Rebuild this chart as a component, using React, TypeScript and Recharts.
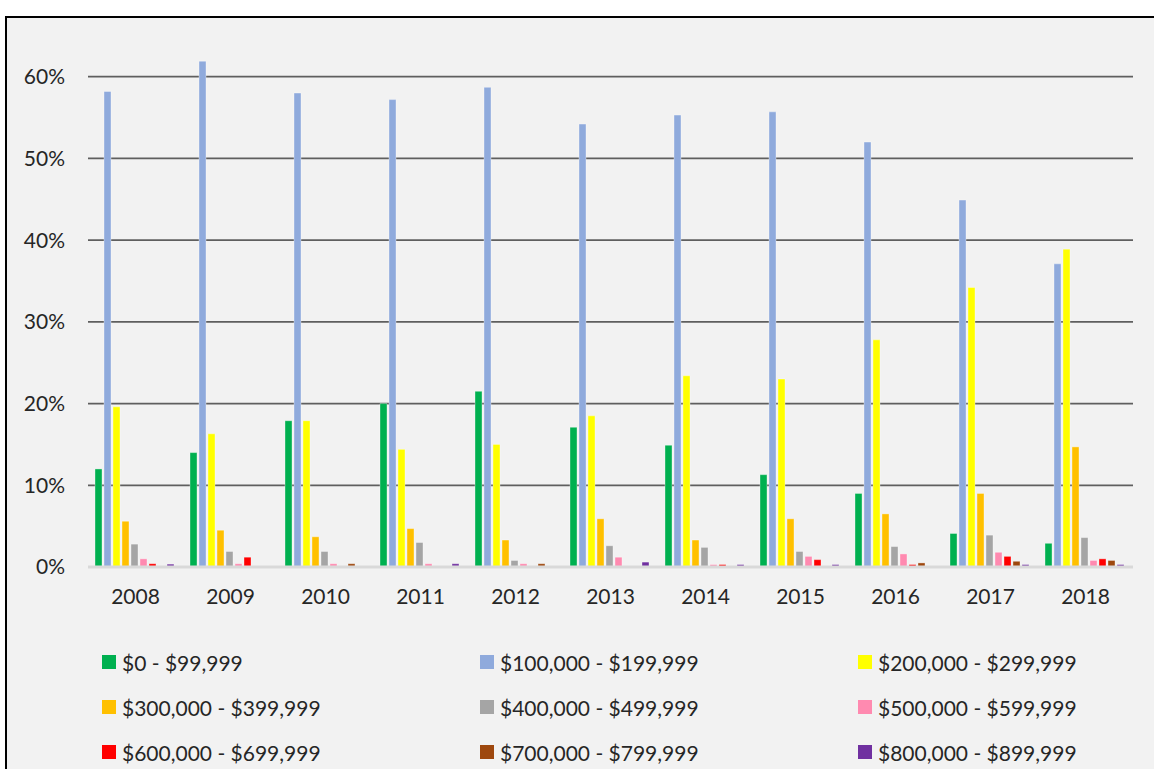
import { BarChart, Bar, XAxis, YAxis, CartesianGrid } from 'recharts'

const years = ['2008', '2009', '2010', '2011', '2012', '2013', '2014', '2015', '2016', '2017', '2018']

// share of loans in each price band, percent
const band0 = [12.0, 14.0, 17.9, 20.0, 21.5, 17.1, 14.9, 11.3, 9.0, 4.1, 2.9]
const band100 = [58.2, 61.9, 58.0, 57.2, 58.7, 54.2, 55.3, 55.7, 52.0, 44.9, 37.1]
const band200 = [19.6, 16.3, 17.9, 14.4, 15.0, 18.5, 23.4, 23.0, 27.8, 34.2, 38.9]
const band300 = [5.6, 4.5, 3.7, 4.7, 3.3, 5.9, 3.3, 5.9, 6.5, 9.0, 14.7]
const band400 = [2.8, 1.9, 1.9, 3.0, 0.8, 2.6, 2.4, 1.9, 2.5, 3.9, 3.6]
const band500 = [1.0, 0.4, 0.4, 0.4, 0.4, 1.2, 0.3, 1.3, 1.6, 1.8, 0.8]
const band600 = [0.4, 1.2, 0, 0, 0, 0, 0.3, 0.9, 0.3, 1.3, 1.0]
const band700 = [0, 0, 0.4, 0, 0.4, 0, 0, 0, 0.5, 0.7, 0.8]
const band800 = [0.35, 0, 0, 0.4, 0, 0.6, 0.3, 0.3, 0, 0.3, 0.3]

const yTicks = [0, 10, 20, 30, 40, 50, 60]

const series = [
  { key: 'b0', name: '$0 - $99,999', color: '#00b050', values: band0 },
  { key: 'b100', name: '$100,000 - $199,999', color: '#8faadc', values: band100 },
  { key: 'b200', name: '$200,000 - $299,999', color: '#ffff00', values: band200 },
  { key: 'b300', name: '$300,000 - $399,999', color: '#ffc000', values: band300 },
  { key: 'b400', name: '$400,000 - $499,999', color: '#a5a5a5', values: band400 },
  { key: 'b500', name: '$500,000 - $599,999', color: '#ff8ab0', values: band500 },
  { key: 'b600', name: '$600,000 - $699,999', color: '#ff0000', values: band600 },
  { key: 'b700', name: '$700,000 - $799,999', color: '#9e480e', values: band700 },
  { key: 'b800', name: '$800,000 - $899,999', color: '#7030a0', values: band800 },
]

const data = years.map((year, i) => {
  const row: Record<string, string | number> = { year }
  for (const s of series) row[s.key] = s.values[i]
  return row
})

const font = 'Lato, "Open Sans", sans-serif'

function LegendGrid() {
  return (
    <div style={{ position: 'absolute', left: 0, top: 650, width: 1154, height: 140 }}>
      {series.map((s, i) => {
        const col = i % 3
        const row = Math.floor(i / 3)
        return (
          <div
            key={s.key}
            style={{
              position: 'absolute',
              left: 102 + col * 378,
              top: row * 45,
              height: 24,
              display: 'flex',
              alignItems: 'center',
              fontFamily: font,
              fontSize: 21,
              color: '#262626',
              whiteSpace: 'nowrap',
            }}
          >
            <span style={{ width: 14, height: 14, background: s.color, marginRight: 6, display: 'inline-block' }} />
            {s.name}
          </div>
        )
      })}
    </div>
  )
}

export default function App() {
  return (
    <div style={{ position: 'absolute', left: 0, top: 0, width: 1154, height: 769, overflow: 'hidden', background: '#fff' }}>
      <div
        style={{
          position: 'absolute',
          left: 5,
          top: 16,
          width: 1200,
          height: 800,
          border: '2px solid #000',
          background: '#f2f2f2',
        }}
      />
      <div style={{ position: 'absolute', left: 0, top: -20 }}>
        <BarChart
          width={1154}
          height={660}
          data={data}
          margin={{ top: 15, right: 21, bottom: 13, left: 0 }}
          barCategoryGap={7}
          barGap={2}
        >
          <CartesianGrid vertical={false} stroke="#5f5f5f" strokeWidth={1.8} />
          <XAxis
            dataKey="year"
            height={60}
            tickSize={0}
            tickMargin={22}
            axisLine={{ stroke: '#d9d9d9', strokeWidth: 3 }}
            tickLine={false}
            tick={{ fill: '#262626', fontSize: 21, fontFamily: font }}
          />
          <YAxis
            domain={[0, 70]}
            ticks={yTicks}
            width={88}
            tickSize={0}
            tickMargin={23}
            axisLine={false}
            tickLine={false}
            tickFormatter={(v: number) => `${v}%`}
            tick={{ fill: '#262626', fontSize: 21, fontFamily: font }}
          />
          {series.map((s) => (
            <Bar
              key={s.key}
              dataKey={s.key}
              name={s.name}
              fill={s.color}
              stroke="#ffffff"
              strokeOpacity={0.35}
              strokeWidth={1}
              isAnimationActive={false}
            />
          ))}
        </BarChart>
      </div>
      <LegendGrid />
    </div>
  )
}
